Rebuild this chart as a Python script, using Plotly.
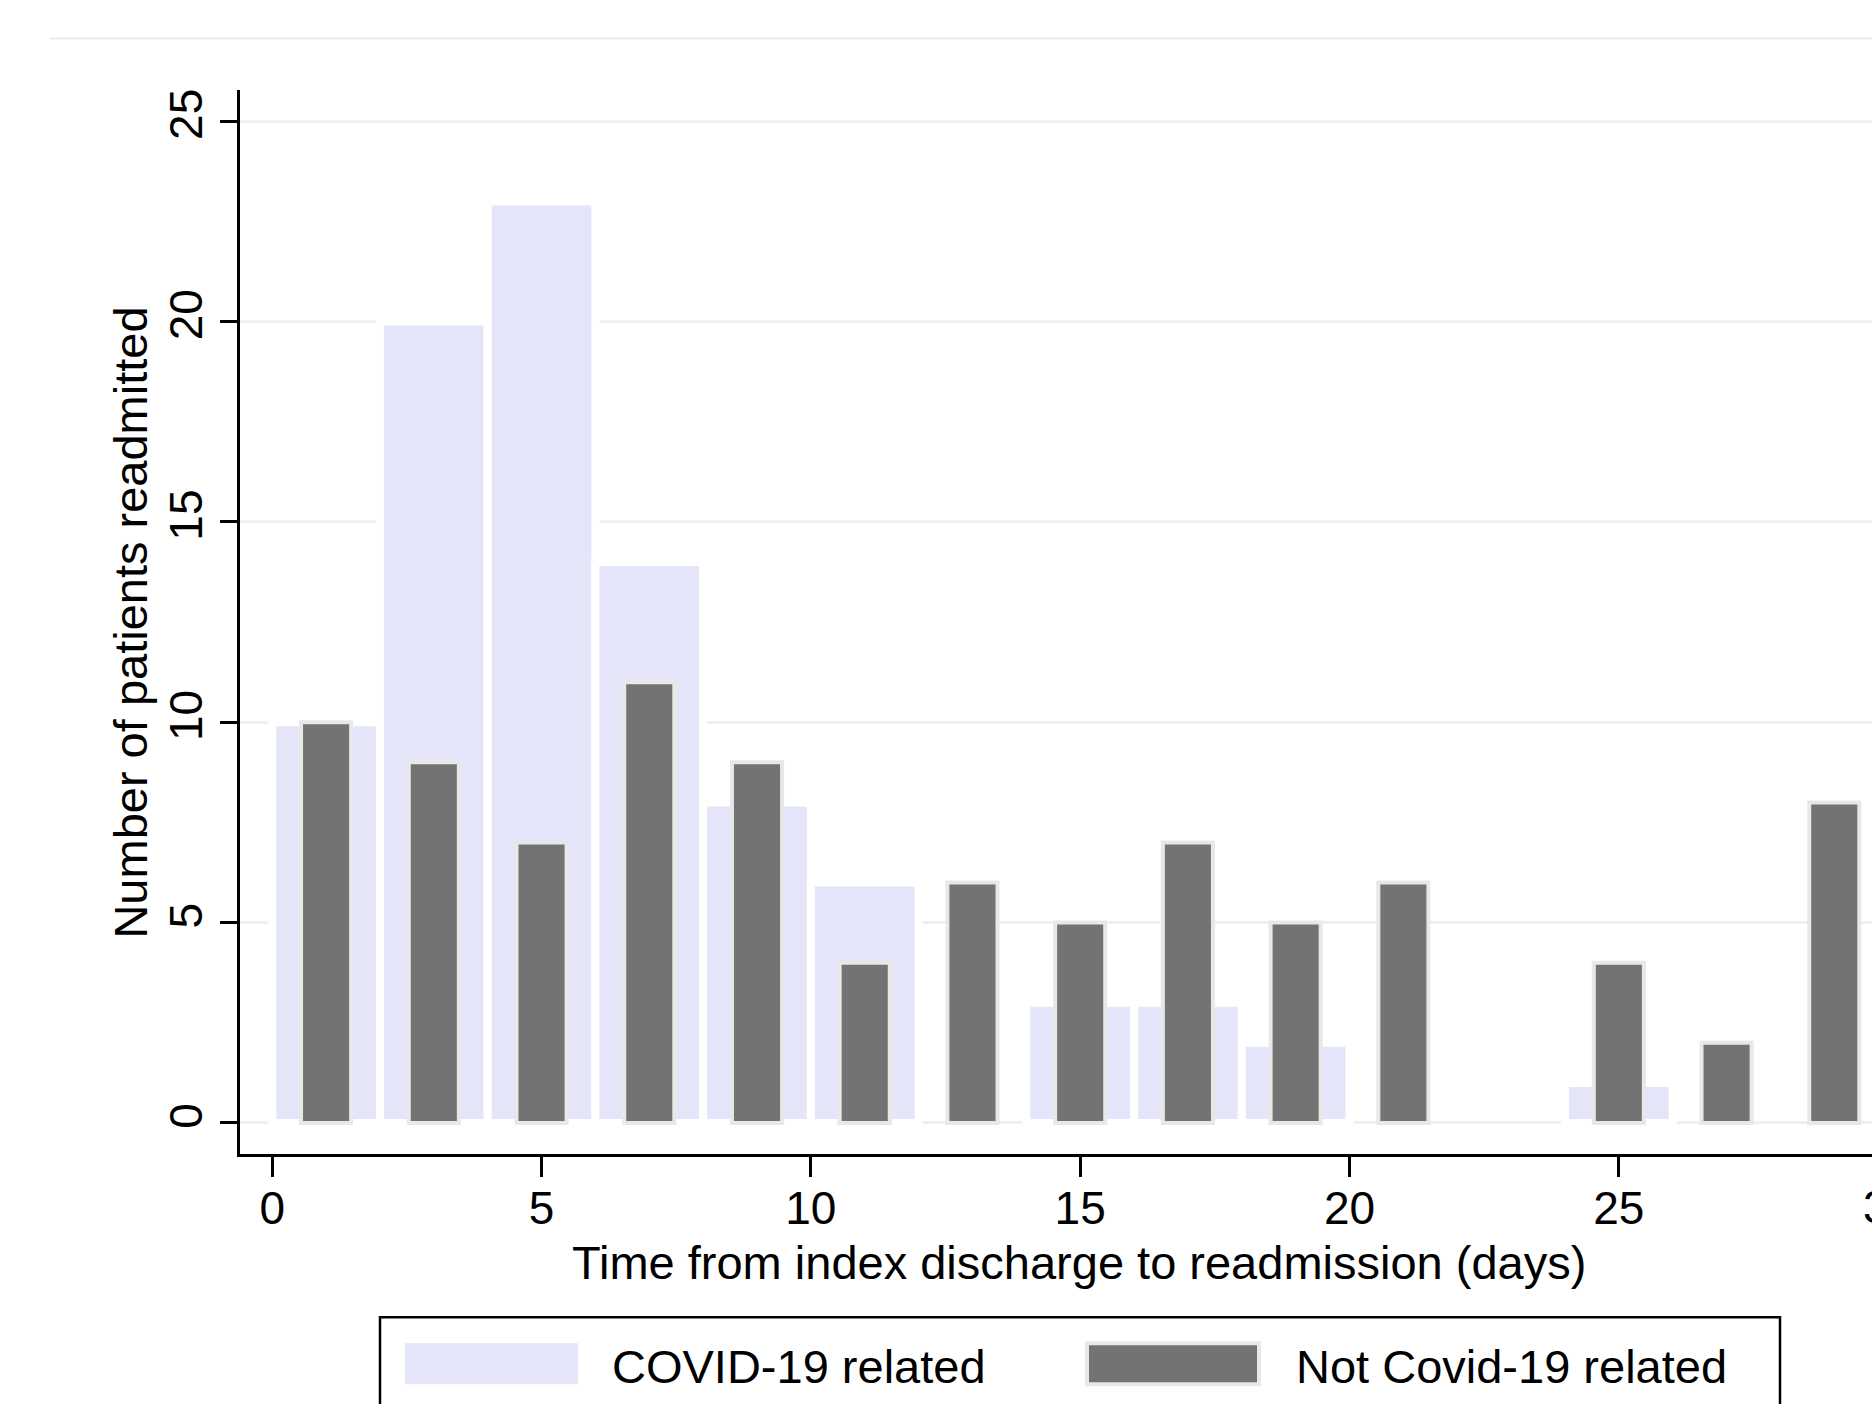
import plotly.graph_objects as go

# ---- data ----
days = [1, 3, 5, 7, 9, 11, 13, 15, 17, 19, 21, 23, 25, 27, 29]
covid_related = [10, 20, 23, 14, 8, 6, 0, 3, 3, 2, 0, 0, 1, 0, 0]
not_covid_related = [10, 9, 7, 11, 9, 4, 6, 5, 7, 5, 6, 0, 4, 2, 8]
series_names = ["COVID-19 related", "Not Covid-19 related"]
x_ticks = [0, 5, 10, 15, 20, 25]
y_ticks = [0, 5, 10, 15, 20, 25]
x_title = "Time from index discharge to readmission (days)"
y_title = "Number of patients readmitted"

# ---- styling / geometry ----
W, H = 1872, 1404
X_MIN, X_MAX = -0.598, 29.70
Y_MIN, Y_MAX = -0.775, 25.78
# plot area in page pixels: x 240..1872, y 89.5..1154.5
L, T, R = 240, 89.5, 0
B = H - 1154.5
PW, PH = W - L - R, H - T - B
FONT = "Liberation Sans, Arial, Helvetica, sans-serif"
LAV = "#e5e5fa"
GRAY = "#737373"
GRAY_EDGE = "#e8e8e8"
GRID = "#e9f1f2"


def px(xp):
    """page pixel x -> paper coordinate"""
    return (xp - L) / PW


def py(yp):
    """page pixel y -> paper coordinate"""
    return (H - B - yp) / PH


def xdata_to_paper(v):
    return (v - X_MIN) / (X_MAX - X_MIN)


def nz(vals):
    return [v if v != 0 else None for v in vals]


fig = go.Figure()
fig.add_trace(go.Bar(
    x=days, y=nz(covid_related), width=2, name=series_names[0],
    marker=dict(color=LAV, line=dict(color="white", width=8)),
))
fig.add_trace(go.Bar(
    x=days, y=nz(not_covid_related), width=0.93, name=series_names[1],
    marker=dict(color=GRAY, line=dict(color=GRAY_EDGE, width=4)),
))

fig.update_layout(
    width=W, height=H, autosize=False,
    margin=dict(l=L, r=R, t=T, b=B, pad=0),
    paper_bgcolor="white", plot_bgcolor="white",
    barmode="overlay", showlegend=False,
    font=dict(family=FONT, size=46, color="black"),
)
fig.update_xaxes(
    range=[X_MIN, X_MAX], tickvals=x_ticks, ticktext=[str(v) for v in x_ticks],
    showgrid=False, zeroline=False, showline=True, linecolor="black", linewidth=2.5,
    ticks="outside", ticklen=20, tickwidth=2.5, tickcolor="black",
    ticklabelstandoff=-8,
    tickfont=dict(size=46, family=FONT, color="black"),
)
fig.update_yaxes(
    range=[Y_MIN, Y_MAX], tickvals=y_ticks, ticktext=[str(v) for v in y_ticks],
    showgrid=True, gridcolor=GRID, gridwidth=3, zeroline=False,
    showline=True, linecolor="black", linewidth=2.5,
    ticks="outside", ticklen=17, tickwidth=2.5, tickcolor="black",
    tickangle=-90, tickfont=dict(size=46, family=FONT, color="black"),
)

annotations = [
    dict(text=x_title, xref="paper", yref="paper", x=px(1079), y=py(1263),
         xanchor="center", yanchor="middle", showarrow=False,
         font=dict(size=47, family=FONT, color="black")),
    dict(text=y_title, xref="paper", yref="paper", x=px(131), y=py(622.6),
         xanchor="center", yanchor="middle", showarrow=False, textangle=-90,
         font=dict(size=47, family=FONT, color="black")),
    # partially visible "30" tick label at the cropped right edge (as in the reference)
    dict(text="30", xref="paper", yref="paper", x=xdata_to_paper(30), y=py(1208),
         xanchor="center", yanchor="middle", showarrow=False,
         font=dict(size=46, family=FONT, color="black")),
    dict(text=series_names[0], xref="paper", yref="paper", x=px(610), y=py(1367),
         xanchor="left", yanchor="middle", showarrow=False,
         font=dict(size=47, family=FONT, color="black")),
    dict(text=series_names[1], xref="paper", yref="paper", x=px(1294), y=py(1367),
         xanchor="left", yanchor="middle", showarrow=False,
         font=dict(size=47, family=FONT, color="black")),
]
fig.update_layout(annotations=annotations)

shapes = [
    # faint outer graph-region border at the top
    dict(type="line", xref="paper", yref="paper", x0=px(50), x1=px(1900),
         y0=py(38), y1=py(38), line=dict(color="#ebebeb", width=2)),
    # legend box (cropped at the bottom)
    dict(type="rect", xref="paper", yref="paper", x0=px(380), x1=px(1780),
         y0=py(1318), y1=py(1460), line=dict(color="black", width=2.5),
         fillcolor="rgba(0,0,0,0)"),
    dict(type="rect", xref="paper", yref="paper", x0=px(405), x1=px(578),
         y0=py(1344), y1=py(1385), line=dict(width=0), fillcolor=LAV),
    dict(type="rect", xref="paper", yref="paper", x0=px(1087), x1=px(1259),
         y0=py(1344), y1=py(1385), line=dict(color=GRAY_EDGE, width=4), fillcolor=GRAY),
]
fig.update_layout(shapes=shapes)

fig.write_html(
    "out.html",
    config={"displayModeBar": False},
    post_script="document.body.style.margin='0';document.body.style.overflow='hidden';",
)
